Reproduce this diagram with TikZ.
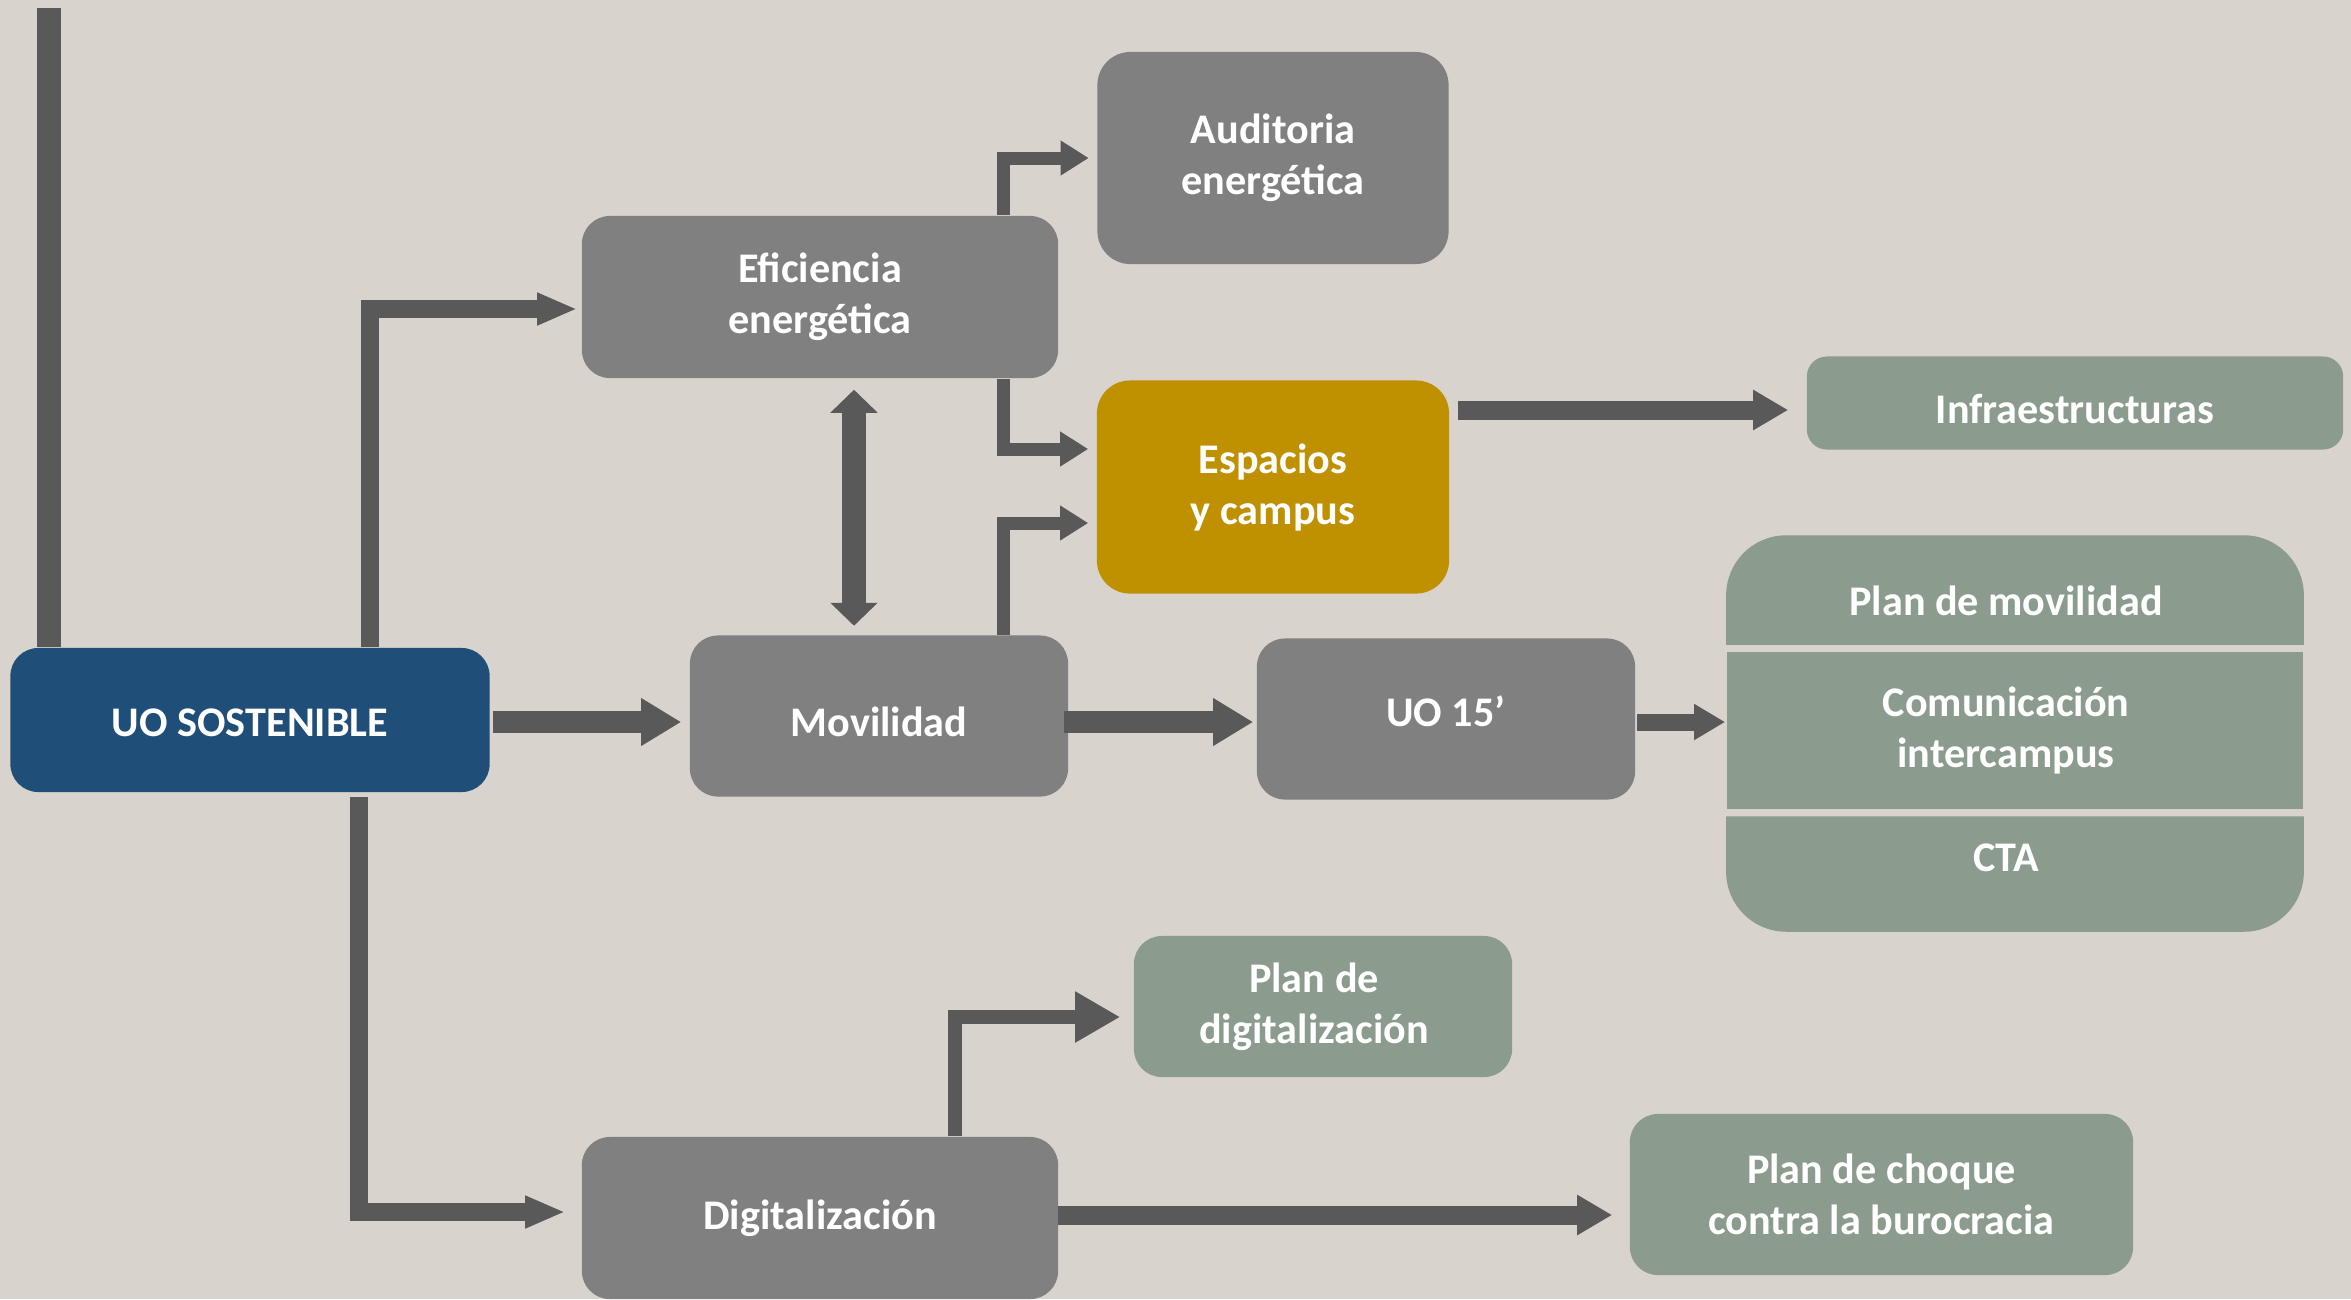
\documentclass[tikz,border=0pt]{standalone}
\usepackage{fontspec}
\setmainfont{Carlito}
\usetikzlibrary{arrows.meta}
\usetikzlibrary{calc}
\definecolor{canvas}{HTML}{D8D3CD}
\definecolor{boxgray}{HTML}{808080}
\definecolor{arrowgray}{HTML}{595959}
\definecolor{uoblue}{HTML}{1F4E79}
\definecolor{gold}{HTML}{BF9000}
\definecolor{sage}{HTML}{8B9B8D}
\pgfdeclarelayer{background}
\pgfsetlayers{background,main}
% move a one-line label up or down inside its box
\newcommand{\nudge}[2]{\raisebox{#1}[\height][\depth]{#2}}

\begin{document}
\begin{tikzpicture}[x = 0.01cm, y = -0.01cm]
	\tikzstyle{box} = [rounded corners = 0.28cm, inner sep = 0pt, align = center, text = white, font = \bfseries\fontsize{12}{14.5}\selectfont]
	\tikzstyle{grayBox} = [box, fill = boxgray]
	\tikzstyle{sageBox} = [box, fill = sage]
	\tikzstyle{trunk} = [draw = arrowgray, line width = 0.23cm]
	\tikzstyle{bigArrow} = [draw = arrowgray, line width = 0.22cm, -{Triangle[width = 0.45cm, length = 0.40cm]}]
	\tikzstyle{midArrow} = [draw = arrowgray, line width = 0.19cm, -{Triangle[width = 0.38cm, length = 0.35cm]}]
	\tikzstyle{smallArrow} = [draw = arrowgray, line width = 0.17cm, -{Triangle[width = 0.34cm, length = 0.31cm]}]
	\tikzstyle{feedArrow} = [draw = arrowgray, line width = 0.18cm, -{Triangle[width = 0.30cm, length = 0.40cm]}]
	\tikzstyle{elbowArrow} = [draw = arrowgray, line width = 0.13cm, -{Triangle[width = 0.33cm, length = 0.28cm]}]
	\tikzstyle{digArrow} = [draw = arrowgray, line width = 0.14cm, -{Triangle[width = 0.48cm, length = 0.45cm]}]
	\tikzstyle{twoWay} = [draw = arrowgray, line width = 0.24cm, {Triangle[width = 0.46cm, length = 0.23cm]}-{Triangle[width = 0.46cm, length = 0.23cm]}]
	\useasboundingbox (0,0) rectangle (2351,1299);
	\begin{pgfonlayer}{background}
		\fill[canvas] (0,0) rectangle (2351,1299);
	\end{pgfonlayer}
	% boxes
	\node[box, fill = uoblue, minimum width = 4.79cm, minimum height = 1.44cm] (uo) at (250,720) {\nudge{-0.85pt}{UO SOSTENIBLE}};
	\node[grayBox, minimum width = 4.76cm, minimum height = 1.62cm] (eff) at (820,297) {Eficiencia\\energética};
	\node[grayBox, rounded corners = 0.33cm, minimum width = 3.51cm, minimum height = 2.12cm] (aud) at (1273,158) {Auditoria\\energética};
	\node[box, fill = gold, rounded corners = 0.33cm, minimum width = 3.52cm, minimum height = 2.13cm] (esp) at (1273,487) {Espacios\\y campus};
	\node[sageBox, rounded corners = 0.2cm, minimum width = 5.36cm, minimum height = 0.93cm] (inf) at (2075,403) {\nudge{-1.7pt}{Infraestructuras}};
	\node[grayBox, minimum width = 3.78cm, minimum height = 1.61cm] (mov) at (879,716) {\nudge{-1.7pt}{Movilidad}};
	\node[grayBox, minimum width = 3.78cm, minimum height = 1.61cm] (uo15) at (1446,719) {\nudge{2.1pt}{UO 15’}};
	\node[box, minimum width = 5.76cm, minimum height = 1.08cm] (pm) at (2015,590) {\nudge{-3pt}{Plan de movilidad}\hspace*{0.18cm}};
	\node[sageBox, rounded corners = 0pt, minimum width = 5.76cm, minimum height = 1.57cm] (com) at (2015,730.5) {Comunicación\hspace*{0.18cm}\\intercampus\hspace*{0.18cm}};
	\node[box, minimum width = 5.76cm, minimum height = 1.14cm] (cta) at (2015,874) {\nudge{4.7pt}{CTA}\hspace*{0.18cm}};
	\node[sageBox, minimum width = 3.78cm, minimum height = 1.41cm] (pdig) at (1323,1006.5) {Plan de\hspace*{0.18cm}\\digitalización\hspace*{0.18cm}};
	\node[grayBox, minimum width = 4.76cm, minimum height = 1.62cm] (dig) at (820,1218) {Digitalización};
	\node[sageBox, minimum width = 5.03cm, minimum height = 1.61cm] (choque) at (1881.5,1194.5) {Plan de choque\\contra la burocracia};
	\begin{pgfonlayer}{background}
		\fill[sage, rounded corners = 0.6cm] (pm.south west) -- (pm.north west) -- (pm.north east) -- (pm.south east);
		\fill[sage, rounded corners = 0.6cm] (cta.north west) -- (cta.south west) -- (cta.south east) -- (cta.north east);
	\end{pgfonlayer}
	% connectors
	\coordinate (top) at (49,8);
	\draw[trunk] (top) -- (top |- uo.north);
	\draw[feedArrow] ($(uo.north)+(120,0)$) |- ($(eff.west)+(-4,12)$);
	\draw[feedArrow] ($(uo.south)+(109,4)$) |- ($(dig.west)+(-16,-6)$);
	\draw[bigArrow] ($(uo.east)+(3,2)$) -- ($(mov.west)+(-8,6)$);
	\draw[bigArrow] ($(mov.east)+(-5,6)$) -- ($(uo15.west)+(-3,3)$);
	\draw[smallArrow] ($(uo15.east)+(1,3)$) -- ($(com.west)+(-1,-8.5)$);
	\draw[elbowArrow] ($(eff.north)+(183,0)$) |- ($(aud.west)+(-8,0)$);
	\draw[elbowArrow] ($(eff.south)+(183,0)$) |- ($(esp.west)+(-8,-38)$);
	\draw[elbowArrow] ($(mov.north)+(124,0)$) |- ($(esp.west)+(-8,36)$);
	\draw[twoWay] ($(eff.south)+(34,11)$) -- ($(mov.north)+(-25,-9)$);
	\draw[midArrow] ($(esp.east)+(8,-77)$) -- ($(inf.west)+(-18,7)$);
	\draw[digArrow] ($(dig.north)+(135,0)$) |- ($(pdig.west)+(-13,10.5)$);
	\draw[midArrow] ($(dig.east)+(-1,-3)$) -- ($(choque.west)+(-17,20.5)$);
\end{tikzpicture}
\end{document}
